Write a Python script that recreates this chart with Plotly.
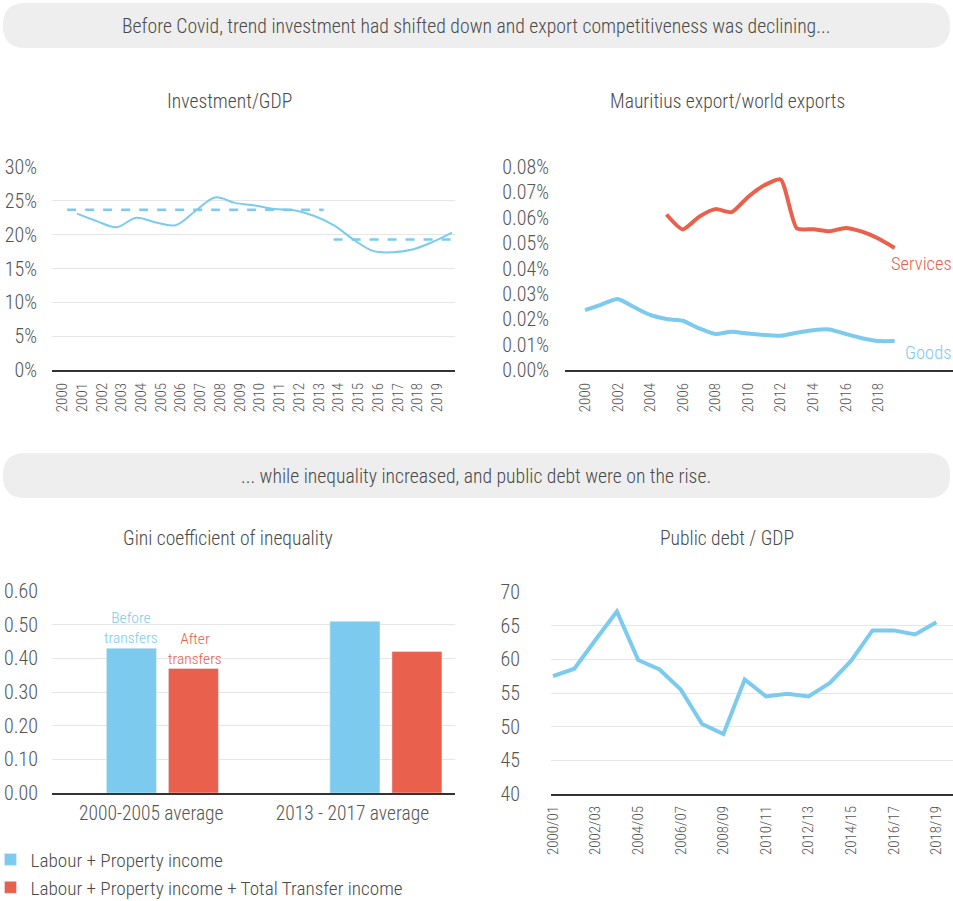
import plotly.graph_objects as go

W, H = 953, 901
FONT = "Roboto Condensed, Liberation Sans Narrow, DejaVu Sans Condensed, Roboto, sans-serif"
BLUE = "#7ccbee"
RED = "#e9604c"
TXT = "#4a4a4a"
GRID = "#e6e6e6"

# ---------------- data ----------------
inv_years = list(range(2000, 2020))
inv_gdp = [23.1, 22.0, 21.1, 22.5, 21.8, 21.4, 23.5, 25.5, 24.7, 24.3,
           23.8, 23.6, 22.8, 21.4, 19.3, 17.6, 17.4, 17.8, 18.9, 20.3]
avg_periods = [(1999.5, 2012.5), (2013.0, 2019.0)]
avg_values = [23.7, 19.3]

exp_years = list(range(2000, 2020))
goods = [0.0236, 0.0258, 0.0280, 0.0248, 0.0217, 0.0201, 0.0194, 0.0164, 0.0142, 0.0151,
         0.0144, 0.0138, 0.0135, 0.0147, 0.0157, 0.0160, 0.0142, 0.0125, 0.0114, 0.0114]
serv_years = list(range(2005, 2020))
services = [0.0613, 0.0554, 0.0604, 0.0634, 0.0622, 0.0682, 0.0728, 0.0751,
            0.0558, 0.0555, 0.0547, 0.0560, 0.0545, 0.0518, 0.0481]

gini_periods = ["2000-2005 average", "2013 - 2017 average"]
gini_before = [0.43, 0.51]
gini_after = [0.37, 0.42]

debt_years = ["2000/01", "2001/02", "2002/03", "2003/04", "2004/05", "2005/06", "2006/07",
              "2007/08", "2008/09", "2009/10", "2010/11", "2011/12", "2012/13", "2013/14",
              "2014/15", "2015/16", "2016/17", "2017/18", "2018/19"]
debt = [57.5, 58.6, 62.9, 67.1, 59.9, 58.5, 55.5, 50.4, 48.9, 57.0,
        54.5, 54.9, 54.5, 56.5, 59.8, 64.3, 64.3, 63.7, 65.5]

headers = ["Before Covid, trend investment had shifted down and export competitiveness was declining...",
           "... while inequality increased, and public debt were on the rise."]
titles = ["Investment/GDP", "Mauritius export/world exports",
          "Gini coefficient of inequality", "Public debt / GDP"]
legend_names = ["Labour + Property income", "Labour + Property income + Total Transfer income"]


def px_x(p):
    return p / W


def px_y(p):
    return 1 - p / H


fig = go.Figure()

# Investment / GDP
fig.add_trace(go.Scatter(x=inv_years, y=inv_gdp, mode="lines", line=dict(color=BLUE, width=2, shape="spline"),
                         xaxis="x", yaxis="y", showlegend=False))
for (a, b), v in zip(avg_periods, avg_values):
    fig.add_trace(go.Scatter(x=[a, b], y=[v, v], mode="lines", line=dict(color=BLUE, width=2.5, dash="dash"),
                             xaxis="x", yaxis="y", showlegend=False))

# Exports
fig.add_trace(go.Scatter(x=serv_years, y=services, mode="lines", line=dict(color=RED, width=4, shape="spline", smoothing=0.6),
                         xaxis="x2", yaxis="y2", showlegend=False))
fig.add_trace(go.Scatter(x=exp_years, y=goods, mode="lines", line=dict(color=BLUE, width=4, shape="spline", smoothing=0.6),
                         xaxis="x2", yaxis="y2", showlegend=False))

# Gini bars
fig.add_trace(go.Bar(x=[0, 1], y=gini_before, marker_color=BLUE, name=legend_names[0],
                     xaxis="x3", yaxis="y3", showlegend=True))
fig.add_trace(go.Bar(x=[0, 1], y=gini_after, marker_color=RED, name=legend_names[1],
                     xaxis="x3", yaxis="y3", showlegend=True))

# Debt
fig.add_trace(go.Scatter(x=debt_years, y=debt, mode="lines", line=dict(color=BLUE, width=4),
                         xaxis="x4", yaxis="y4", showlegend=False))

tickfont_y = dict(family=FONT, size=20, color="#555555", weight=300)
tickfont_x = dict(family=FONT, size=15, color="#555555", weight=300)

LABEL_SHIFT = 0.75
common_y = dict(showgrid=True, gridcolor=GRID, gridwidth=1, zeroline=False, showline=False,
                ticks="outside", tickcolor="rgba(0,0,0,0)", tickfont=tickfont_y, automargin=False)
common_x = dict(showgrid=False, zeroline=False, showline=True, linecolor="#333333", linewidth=2,
                ticks="outside", tickcolor="rgba(0,0,0,0)", automargin=False)

fig.update_layout(
    width=W, height=H, margin=dict(l=0, r=0, t=0, b=0, autoexpand=False),
    paper_bgcolor="white", plot_bgcolor="white",
    font=dict(family=FONT, color=TXT, weight=300),
    barmode="group", bargap=0.445, bargroupgap=0.194,
    xaxis=dict(domain=[px_x(52), px_x(455)], range=[1998.733, 2019.152], anchor="y",
               tickvals=[y - LABEL_SHIFT for y in inv_years], ticktext=[str(y) for y in inv_years],
               tickangle=-90, tickfont=tickfont_x, ticklen=5, **common_x),
    yaxis=dict(domain=[px_y(370), px_y(167)], range=[0, 30], dtick=5, ticksuffix="%",
               ticklen=10, anchor="x", **common_y),
    xaxis2=dict(domain=[px_x(565), px_x(953)], range=[1998.77, 2022.58], anchor="y2",
                tickvals=exp_years[::2][:10], tickangle=-90, tickfont=tickfont_x, ticklen=5, **common_x),
    yaxis2=dict(domain=[px_y(370), px_y(167)], range=[0, 0.08], dtick=0.01, tickformat=".2f",
                ticksuffix="%", anchor="x2", ticklen=11, showgrid=False, zeroline=False, showline=False,
                ticks="outside", tickcolor="rgba(0,0,0,0)", tickfont=tickfont_y, automargin=False),
    yaxis5=dict(domain=[px_y(370), px_y(167)], range=[0, 0.08], dtick=0.02, overlaying="y2",
                anchor="x2", showgrid=True, gridcolor=GRID, showticklabels=False, zeroline=False,
                automargin=False),
    xaxis3=dict(domain=[px_x(52), px_x(455)], range=[-0.494, 1.309], anchor="y3",
                tickvals=[-0.05, 0.85], ticktext=gini_periods,
                tickfont=dict(family=FONT, size=19.5, color="#555555", weight=300), ticklen=2, **common_x),
    yaxis3=dict(domain=[px_y(793), px_y(591)], range=[0, 0.6], dtick=0.1, tickformat=".2f",
                ticklen=9, anchor="x3", **common_y),
    xaxis4=dict(domain=[px_x(551), px_x(953)], range=[-0.094, 18.78], anchor="y4", type="category",
                tickvals=debt_years[::2], tickangle=-90, tickfont=tickfont_x, ticklen=4, **common_x),
    yaxis4=dict(domain=[px_y(794), px_y(592)], range=[40, 70], dtick=5, ticklen=26, anchor="x4", **common_y),
    legend=dict(x=-0.01, y=-0.006, xanchor="left", yanchor="bottom",
                font=dict(family=FONT, size=19.2, color=TXT, weight=300),
                bgcolor="rgba(0,0,0,0)", tracegroupgap=0, itemwidth=30),
)


def pill(x0, y0, x1, y1, r):
    rx, ry = r / W, r / H
    X0, X1 = px_x(x0), px_x(x1)
    Y0, Y1 = px_y(y0), px_y(y1)
    return (f"M {X0+rx},{Y0} L {X1-rx},{Y0} Q {X1},{Y0} {X1},{Y0-ry} L {X1},{Y1+ry} "
            f"Q {X1},{Y1} {X1-rx},{Y1} L {X0+rx},{Y1} Q {X0},{Y1} {X0},{Y1+ry} L {X0},{Y0-ry} "
            f"Q {X0},{Y0} {X0+rx},{Y0} Z")


for (y0, y1) in [(3, 48), (453, 498)]:
    fig.add_shape(type="path", path=pill(3, y0, 950, y1, 22), xref="paper", yref="paper",
                  fillcolor="#eeeeee", line=dict(width=0), layer="below")

ann = []
for txt, yy in zip(headers, [26, 476]):
    ann.append(dict(text=txt, x=px_x(476), y=px_y(yy), xref="paper", yref="paper", showarrow=False,
                    font=dict(family=FONT, size=19.7, color=TXT, weight=300), xanchor="center", yanchor="middle"))
for txt, (xx, yy) in zip(titles, [(229, 102), (727, 102), (228, 538), (727, 538)]):
    ann.append(dict(text=txt, x=px_x(xx), y=px_y(yy), xref="paper", yref="paper", showarrow=False,
                    font=dict(family=FONT, size=19.6, color=TXT, weight=300), xanchor="center", yanchor="middle"))

ann.append(dict(text="Services", x=serv_years[-1], y=services[-1], xref="x2", yref="y2", showarrow=False,
                xanchor="left", yanchor="top", xshift=-6, yshift=-3,
                font=dict(family=FONT, size=18.5, color=RED, weight=300)))
ann.append(dict(text="Goods", x=exp_years[-1], y=goods[-1], xref="x2", yref="y2", showarrow=False,
                xanchor="left", yanchor="top", xshift=8, yshift=1,
                font=dict(family=FONT, size=18.5, color=BLUE, weight=300)))
ann.append(dict(text="Before<br>transfers", x=0, y=gini_before[0], xref="x3", yref="y3", showarrow=False,
                xanchor="right", yanchor="bottom", xshift=-2, yshift=-1,
                font=dict(family=FONT, size=15.5, color=BLUE, weight=300)))
ann.append(dict(text="After<br>transfers", x=0, y=gini_after[0], xref="x3", yref="y3", showarrow=False,
                xanchor="left", yanchor="bottom", xshift=4, yshift=-2,
                font=dict(family=FONT, size=15.5, color=RED, weight=300)))
fig.update_layout(annotations=ann)

fig.write_html("out.html")
